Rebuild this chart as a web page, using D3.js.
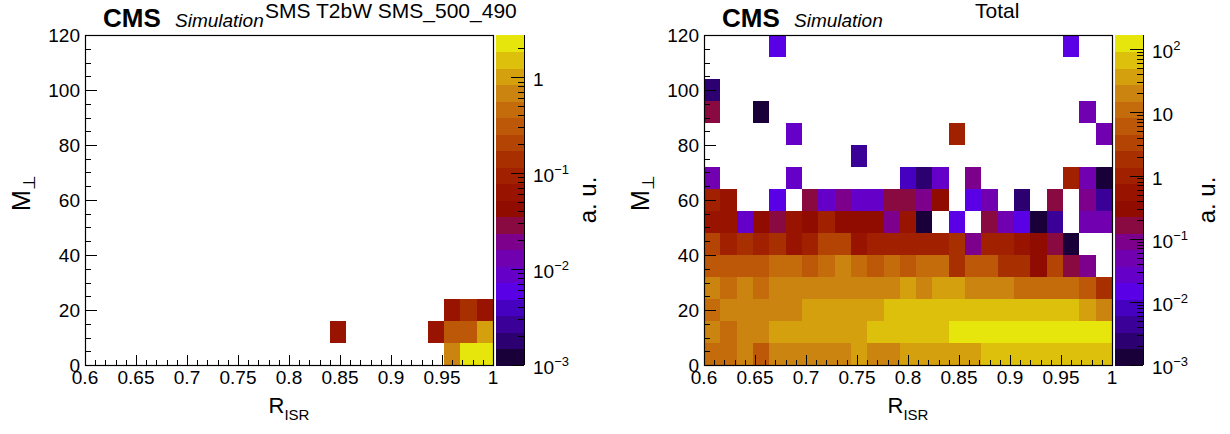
<!DOCTYPE html>
<html>
<head>
<meta charset="utf-8">
<script src="https://cdn.jsdelivr.net/npm/d3@7"></script>
<style>
  body { margin: 0; background: #fff; }
  text { font-family: "Liberation Sans", Arial, Helvetica, sans-serif; fill: #000; }
</style>
</head>
<body>
<script>
"use strict"

/* binning comune ai due istogrammi: 25 bin in R_ISR, 15 bin in M_perp */
const binsR = 25;
const limitiR = [0.6, 1.0];
const binsM = 15;
const limitiM = [0, 120];

/* etichette degli assi */
const tickR = [0.6, 0.65, 0.7, 0.75, 0.8, 0.85, 0.9, 0.95, 1];
const tickM = [0, 20, 40, 60, 80, 100, 120];

/* intervallo della scala colori (a. u.) */
const zSegnale = [1e-3, 2.75];
const zTotale = [1e-3, 168];

/* segnale SMS T2bW 500_490: solo le celle piene (indice bin R, indice bin M, valore) */
const segnaleBinR = [22, 23, 24, 15, 21, 22, 23, 24, 22, 23, 24];
const segnaleBinM = [0, 0, 0, 1, 1, 1, 1, 1, 2, 2, 2];
const segnaleValori = [0.6, 2.3, 2.3, 0.07, 0.07, 0.3, 0.3, 1.0, 0.07, 0.13, 0.07];

/* fondo totale: una riga per bin di M, dall'alto (112-120) al basso (0-8); 0 = vuoto */
const totaleRighe = [
  [0, 0, 0, 0, 0.015, 0, 0, 0, 0, 0, 0, 0, 0, 0, 0, 0, 0, 0, 0, 0, 0, 0, 0.015, 0, 0],
  [0, 0, 0, 0, 0, 0, 0, 0, 0, 0, 0, 0, 0, 0, 0, 0, 0, 0, 0, 0, 0, 0, 0, 0, 0],
  [0.0025, 0, 0, 0, 0, 0, 0, 0, 0, 0, 0, 0, 0, 0, 0, 0, 0, 0, 0, 0, 0, 0, 0, 0, 0],
  [0.17, 0, 0, 0.0013, 0, 0, 0, 0, 0, 0, 0, 0, 0, 0, 0, 0, 0, 0, 0, 0, 0, 0, 0, 0.05, 0],
  [0, 0, 0, 0, 0, 0.027, 0, 0, 0, 0, 0, 0, 0, 0, 0, 1.2, 0, 0, 0, 0, 0, 0, 0, 0, 0.05],
  [0, 0, 0, 0, 0, 0, 0, 0, 0, 0.0045, 0, 0, 0, 0, 0, 0, 0, 0, 0, 0, 0, 0, 0, 0, 0],
  [0.05, 0, 0, 0, 0, 0.027, 0, 0, 0, 0, 0, 0, 0.008, 0.0025, 0.027, 0, 0.09, 0, 0, 0, 0, 0, 1.2, 0.05, 0.0013],
  [1.2, 0.7, 0, 0, 0.015, 0, 0.17, 0.027, 0.09, 0.027, 0.027, 0.17, 0.17, 0.09, 0.38, 0, 0.015, 0.05, 0, 0.0025, 0, 0.17, 0, 0.09, 0.0045],
  [0.55, 0.55, 0.027, 0.38, 0.17, 0.55, 0.38, 1.0, 0.38, 0.38, 0.38, 0.09, 0.55, 0.0013, 0, 0.015, 0, 0.17, 0.05, 0.015, 0.0013, 0.0045, 0, 0.05, 0.05],
  [3.4, 1.0, 1.85, 1.0, 1.85, 0.55, 1.0, 3.4, 3.4, 0.55, 1.0, 1.0, 1.0, 1.0, 1.0, 2.2, 0.09, 1.0, 1.0, 0.55, 0.38, 0.17, 0.0013, 0, 0],
  [6, 6, 6, 6, 11, 11, 6, 14, 20, 11, 6, 11, 6, 11, 11, 1.85, 6, 6, 1.85, 1.85, 0.38, 3.4, 0.17, 0.09, 0],
  [20, 11, 20, 11, 20, 20, 20, 20, 20, 20, 20, 20, 37, 20, 37, 37, 20, 20, 20, 11, 11, 11, 11, 6, 1.85],
  [11, 20, 20, 20, 20, 20, 37, 37, 37, 37, 37, 68, 68, 68, 68, 68, 68, 68, 68, 68, 68, 68, 68, 37, 20],
  [20, 11, 20, 20, 37, 37, 37, 37, 37, 37, 68, 68, 68, 68, 68, 124, 124, 124, 124, 124, 124, 124, 124, 124, 124],
  [11, 11, 20, 6, 20, 20, 20, 20, 20, 37, 20, 20, 37, 37, 37, 37, 37, 68, 68, 68, 68, 68, 68, 68, 68]
];

/* paletta a 20 livelli, dal minimo al massimo */
const paletta = [
  "#1a0038", "#2c0070", "#3a0098", "#4600c0", "#5a00e6",
  "#6400c8", "#7000b0", "#7c008c", "#880a40", "#900c00",
  "#981400", "#a02000", "#a83000", "#b44404", "#bc5808",
  "#c46c0c", "#cc8410", "#d4a00e", "#dcc00c", "#e6e60c"
];

/* trasforma le celle in un array di oggetti {i, j, v} */
const celleSegnale = segnaleValori.map(function (v, k) {
  return { i: segnaleBinR[k], j: segnaleBinM[k], v: v };
});
const celleTotale = [];
totaleRighe.forEach(function (riga, r) {
  riga.forEach(function (v, i) {
    if (v > 0) celleTotale.push({ i: i, j: binsM - 1 - r, v: v });
  });
});

const svg = d3.select("body").append("svg")
  .attr("width", 1230)
  .attr("height", 434);

/* disegna un pannello: istogramma 2D, assi, scala colori, titoli */
function disegnaPannello(p) {
  const x = d3.scaleLinear().domain(limitiR).range([p.x0, p.x1]);
  const y = d3.scaleLinear().domain(limitiM).range([365, 35]);
  const z = d3.scaleLog().domain(p.zDominio).range([365, 35]);
  const colore = d3.scaleQuantize()
    .domain([Math.log10(p.zDominio[0]), Math.log10(p.zDominio[1])])
    .range(paletta);
  const larghezzaR = (limitiR[1] - limitiR[0]) / binsR;
  const altezzaM = (limitiM[1] - limitiM[0]) / binsM;
  const g = svg.append("g");

  /* celle */
  g.append("g")
    .attr("shape-rendering", "crispEdges")
    .selectAll("rect")
    .data(p.celle)
    .enter()
    .append("rect")
    .attr("x", function (d) { return Math.round(x(limitiR[0] + d.i * larghezzaR)); })
    .attr("width", function (d) {
      return Math.round(x(limitiR[0] + (d.i + 1) * larghezzaR)) - Math.round(x(limitiR[0] + d.i * larghezzaR));
    })
    .attr("y", function (d) { return Math.round(y(limitiM[0] + (d.j + 1) * altezzaM)); })
    .attr("height", function (d) {
      return Math.round(y(limitiM[0] + d.j * altezzaM)) - Math.round(y(limitiM[0] + (d.j + 1) * altezzaM));
    })
    .attr("fill", function (d) { return colore(Math.log10(d.v)); });

  /* cornice */
  g.append("rect")
    .attr("x", p.x0 + 0.5).attr("y", 35.5)
    .attr("width", p.x1 - p.x0).attr("height", 330)
    .attr("fill", "none").attr("stroke", "#000").attr("stroke-width", 1.2);

  /* tacche asse R (verso l'interno) */
  g.append("g").selectAll("line")
    .data(x.ticks(40))
    .enter().append("line")
    .attr("x1", function (d) { return Math.round(x(d)) + 0.5; })
    .attr("x2", function (d) { return Math.round(x(d)) + 0.5; })
    .attr("y1", 365)
    .attr("y2", function (d) {
      return tickR.some(function (t) { return Math.abs(t - d) < 1e-6; }) ? 355 : 360;
    })
    .attr("stroke", "#000");
  g.append("g").selectAll("text")
    .data(tickR)
    .enter().append("text")
    .attr("x", function (d) { return x(d); })
    .attr("y", 384)
    .attr("text-anchor", "middle")
    .attr("font-size", 19)
    .text(d3.format("~g"));

  /* tacche asse M */
  g.append("g").selectAll("line")
    .data(y.ticks(24))
    .enter().append("line")
    .attr("y1", function (d) { return Math.round(y(d)) + 0.5; })
    .attr("y2", function (d) { return Math.round(y(d)) + 0.5; })
    .attr("x1", p.x0)
    .attr("x2", function (d) { return d % 20 === 0 ? p.x0 + 12 : p.x0 + 6; })
    .attr("stroke", "#000");
  g.append("g").selectAll("text")
    .data(tickM)
    .enter().append("text")
    .attr("x", p.x0 - 5)
    .attr("y", function (d) { return y(d) + 7; })
    .attr("text-anchor", "end")
    .attr("font-size", 19)
    .text(function (d) { return d; });

  /* titoli degli assi */
  const tR = g.append("text")
    .attr("x", (p.x0 + p.x1) / 2)
    .attr("y", 413)
    .attr("text-anchor", "middle");
  tR.append("tspan").attr("font-size", 22).text("R");
  tR.append("tspan").attr("font-size", 15).attr("dy", 7).text("ISR");

  const tM = g.append("text")
    .attr("transform", "translate(" + (p.x0 - 55) + ",193) rotate(-90)")
    .attr("text-anchor", "middle");
  tM.append("tspan").attr("font-size", 25).text("M");
  tM.append("tspan").attr("font-size", 17).attr("dy", 5).text("\u22A5");

  /* scala colori */
  const cb0 = p.x1 + 3;
  const cb1 = cb0 + 28;
  const passo = (Math.log10(p.zDominio[1]) - Math.log10(p.zDominio[0])) / paletta.length;
  g.append("g")
    .attr("shape-rendering", "crispEdges")
    .selectAll("rect")
    .data(paletta)
    .enter().append("rect")
    .attr("x", cb0)
    .attr("width", cb1 - cb0)
    .attr("y", function (d, k) { return z(Math.pow(10, Math.log10(p.zDominio[0]) + (k + 1) * passo)); })
    .attr("height", function (d, k) {
      return z(Math.pow(10, Math.log10(p.zDominio[0]) + k * passo)) -
        z(Math.pow(10, Math.log10(p.zDominio[0]) + (k + 1) * passo)) + 0.6;
    })
    .attr("fill", function (d) { return d; });

  g.append("line")
    .attr("x1", cb1 + 0.5).attr("x2", cb1 + 0.5)
    .attr("y1", 35).attr("y2", 365)
    .attr("stroke", "#000");

  const tickZ = z.ticks();
  function potenza(d) { return Math.abs(Math.log10(d) - Math.round(Math.log10(d))) < 1e-6; }
  g.append("g").selectAll("line")
    .data(tickZ)
    .enter().append("line")
    .attr("y1", function (d) { return Math.round(z(d)) + 0.5; })
    .attr("y2", function (d) { return Math.round(z(d)) + 0.5; })
    .attr("x1", cb1)
    .attr("x2", function (d) { return potenza(d) ? cb1 - 13 : cb1 - 6; })
    .attr("stroke", "#000");

  const etichetteZ = g.append("g").selectAll("text")
    .data(tickZ.filter(potenza))
    .enter().append("text")
    .attr("x", cb1 + 9)
    .attr("y", function (d) { return z(d) + 9; })
    .attr("font-size", 19);
  etichetteZ.each(function (d) {
    const e = Math.round(Math.log10(d));
    const t = d3.select(this);
    if (e === 0) t.text("1");
    else if (e === 1) t.text("10");
    else {
      t.append("tspan").text("10");
      t.append("tspan").attr("font-size", 13).attr("dy", -8)
        .text(String(e).replace("-", "\u2212"));
    }
  });

  g.append("text")
    .attr("transform", "translate(" + (cb1 + 72) + ",200) rotate(-90)")
    .attr("text-anchor", "middle")
    .attr("font-size", 24)
    .text("a. u.");

  /* intestazione */
  g.append("text")
    .attr("x", p.x0 + 18).attr("y", 27)
    .attr("font-size", 26).attr("font-weight", "bold")
    .text("CMS");
  g.append("text")
    .attr("x", p.x0 + 90).attr("y", 27)
    .attr("font-size", 19).attr("font-style", "italic")
    .text("Simulation");
  g.append("text")
    .attr("x", p.xTitolo).attr("y", 18)
    .attr("font-size", p.fTitolo)
    .text(p.titolo);
}

disegnaPannello({
  x0: 85, x1: 493,
  zDominio: zSegnale,
  celle: celleSegnale,
  titolo: "SMS T2bW SMS_500_490",
  xTitolo: 265, fTitolo: 21
});

disegnaPannello({
  x0: 704, x1: 1112,
  zDominio: zTotale,
  celle: celleTotale,
  titolo: "Total",
  xTitolo: 975, fTitolo: 21
});
</script>
</body>
</html>
